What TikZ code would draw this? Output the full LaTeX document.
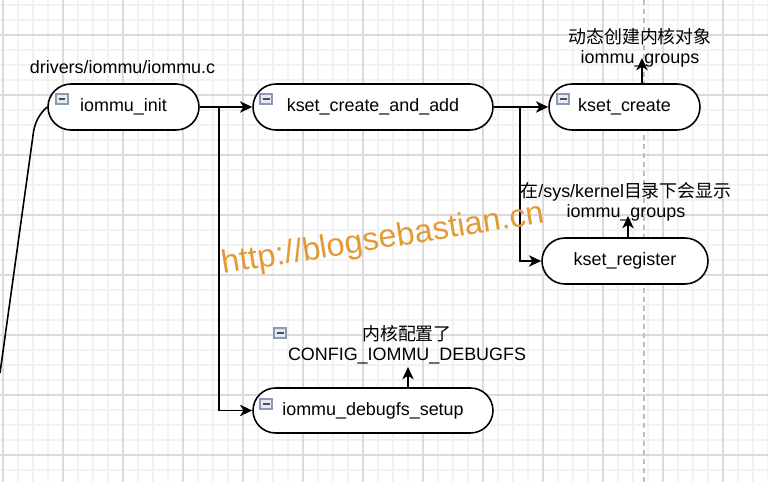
\documentclass[tikz,border=0pt]{standalone}
\usepackage{fontspec}
\setmainfont{Liberation Sans}
\newfontfamily\cjk{Noto Sans CJK SC}
\usetikzlibrary{shapes.misc,arrows.meta,positioning}

\definecolor{gridminor}{HTML}{F2F2F2}
\definecolor{gridmajor}{HTML}{DADADA}
\definecolor{pagedash}{HTML}{BDBDBD}
\definecolor{wmark}{HTML}{E39A36}
\definecolor{iconedge}{HTML}{8A9AB5}
\definecolor{iconfill}{HTML}{E4EAF2}

\tikzset{
  func/.style={rounded rectangle, draw, line width=0.9pt, fill=white,
    minimum height=0.92cm, inner sep=0pt},
  call/.style={-{Stealth[length=7pt,width=6.5pt,inset=2pt]}, line width=0.9pt},
  foldicon/.style={draw=iconedge, fill=iconfill, line width=0.6pt,
    minimum width=0.24cm, minimum height=0.2cm, inner sep=0pt,
    path picture={\draw[line width=1pt, black!70]
      ([xshift=0.05cm]path picture bounding box.west) --
      ([xshift=-0.05cm]path picture bounding box.east);}},
  txt/.style={align=center, font=\fontsize{10.2}{11.5}\selectfont}
}

\begin{document}
\begin{tikzpicture}[x=0.02cm, y=-0.02cm, font=\fontsize{10.2}{11.5}\selectfont]
\useasboundingbox (0,0) rectangle (768,482);
% background grid
\foreach \gx in {3,18,...,768} \draw[gridminor, line width=0.6pt] (\gx,0) -- (\gx,482);
\foreach \gy in {5,20,...,482} \draw[gridminor, line width=0.6pt] (0,\gy) -- (768,\gy);
\foreach \gx in {3,63,...,768} \draw[gridmajor, line width=0.6pt] (\gx,0) -- (\gx,482);
\foreach \gy in {35,95,...,482} \draw[gridmajor, line width=0.6pt] (0,\gy) -- (768,\gy);
\draw[pagedash, line width=0.7pt, dash pattern=on 0.1cm off 0.08cm] (644,0) -- (644,482);

% functions
\node[func, minimum width=3.02cm] (iinit) at (123.5,107) {iommu\_init};
\node[func, minimum width=4.8cm] (kcaa) at (373,107) {kset\_create\_and\_add};
\node[func, minimum width=3.02cm] (kcreate) at (624.5,107) {kset\_create};
\node[func, minimum width=3.32cm] (kreg) at (625,261) {kset\_register};
\node[func, minimum width=4.8cm, minimum height=0.9cm] (kdebug) at (373,410.5) {iommu\_debugfs\_setup};

\node[foldicon] (ic1) at (62,99) {};
\node[foldicon] (ic2) at (266,99) {};
\node[foldicon] (ic3) at (563,99) {};
\node[foldicon] (ic4) at (266,404) {};
\node[foldicon] (ic5) at (280,333) {};

% notes
\node (lfile) at (122.5,67) {drivers/iommu/iommu.c};
\node[txt] (lcreate) at (640,48) {{\cjk 动态创建内核对象}\\iommu\_groups};
\node[txt] (lreg) at (626,202) {{\cjk 在}/sys/kernel{\cjk 目录下会显示}\\iommu\_groups};
\node[txt] (ldebug) at (407,344.5) {{\cjk 内核配置了}\\CONFIG\_IOMMU\_DEBUGFS};

% calls
\coordinate (jinit) at (219,107);
\coordinate (jcaa) at (520,107);
\coordinate (tcreate) at (642,58);
\coordinate (treg) at (628,216);
\coordinate (tdebug) at (408,367);
\coordinate (cout) at (0,373);
\draw[call] (iinit) -- (kcaa);
\draw[call] (jinit) |- (kdebug);
\draw[call] (kcaa) -- (kcreate);
\draw[call] (jcaa) |- (kreg);
\draw[call] (tcreate |- kcreate.north) -- (tcreate);
\draw[call] (treg |- kreg.north) -- (treg);
\draw[call] (tdebug |- kdebug.north) -- (tdebug);
\draw[line width=0.9pt] (iinit.west) .. controls (40,113) and (35,122) .. (33.5,132) -- (cout);

\node[text=wmark, rotate=9, font=\fontsize{18.5}{20}\selectfont] (wm) at (383,240) {http://blogsebastian.cn};
\end{tikzpicture}
\end{document}
